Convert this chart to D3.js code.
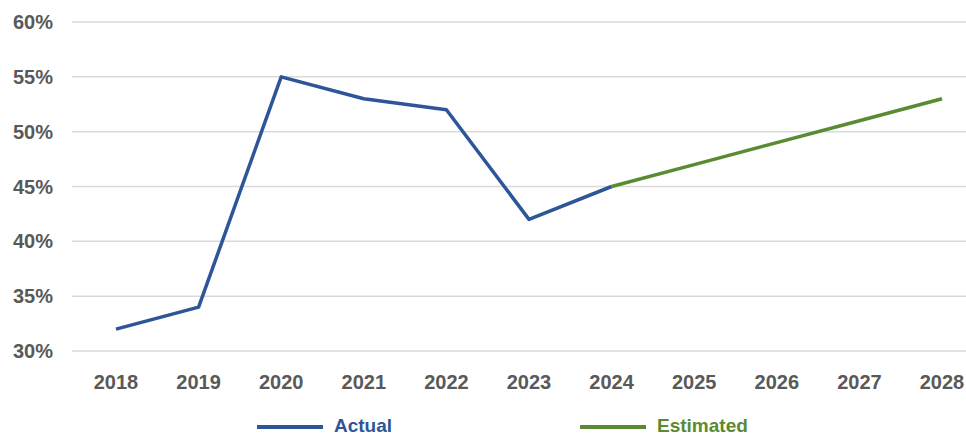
<!DOCTYPE html>
<html>
<head>
<meta charset="utf-8">
<script src="https://cdn.jsdelivr.net/npm/d3@7"></script>
<style>
  body { margin: 0; background: #fff; }
  svg text { font-family: "Liberation Sans Narrow", "Liberation Sans", Arial, sans-serif; font-weight: bold; }
</style>
</head>
<body>
<svg id="chart" width="966" height="436"></svg>
<script>
var years = [2018, 2019, 2020, 2021, 2022, 2023, 2024, 2025, 2026, 2027, 2028];
var actual = [32, 34, 55, 53, 52, 42, 45];
var estimated = [45, 47, 49, 51, 53];
var estYears = [2024, 2025, 2026, 2027, 2028];
var yTicks = [30, 35, 40, 45, 50, 55, 60];

var svg = d3.select("#chart");
var x = d3.scalePoint().domain(years).range([116, 942]);
var y = d3.scaleLinear().domain([30, 60]).range([351, 22]);

// grid
svg.append("g").selectAll("line")
  .data(yTicks).enter()
  .append("line")
  .attr("x1", 72).attr("x2", 966)
  .attr("y1", d => y(d)).attr("y2", d => y(d))
  .attr("stroke", "#d9d9d9").attr("stroke-width", 1.5);

// y labels
svg.append("g").selectAll("text")
  .data(yTicks).enter()
  .append("text")
  .attr("x", 53).attr("y", d => y(d) + 7)
  .attr("text-anchor", "end")
  .attr("font-size", 20).attr("fill", "#595959")
  .text(d => d + "%");

// x labels
svg.append("g").selectAll("text")
  .data(years).enter()
  .append("text")
  .attr("x", d => x(d)).attr("y", 389)
  .attr("text-anchor", "middle")
  .attr("font-size", 20).attr("fill", "#595959")
  .text(d => d);

var line = d3.line().x(d => x(d[0])).y(d => y(d[1]));

svg.append("path")
  .datum(d3.zip(years.slice(0, actual.length), actual))
  .attr("d", line).attr("fill", "none")
  .attr("stroke", "#2e5597").attr("stroke-width", 3.5)
  .attr("stroke-linejoin", "round");

svg.append("path")
  .datum(d3.zip(estYears, estimated))
  .attr("d", line).attr("fill", "none")
  .attr("stroke", "#5a8a32").attr("stroke-width", 3.5)
  .attr("stroke-linejoin", "round");

// legend
var legend = [
  { name: "Actual", color: "#2e5597", x: 257 },
  { name: "Estimated", color: "#5a8a32", x: 580 }
];
var lg = svg.append("g").selectAll("g").data(legend).enter().append("g");
lg.append("line")
  .attr("x1", d => d.x).attr("x2", d => d.x + 66)
  .attr("y1", 427).attr("y2", 427)
  .attr("stroke", d => d.color).attr("stroke-width", 4);
lg.append("text")
  .attr("x", d => d.x + 77).attr("y", 432)
  .attr("font-size", 19).attr("fill", d => d.color)
  .text(d => d.name);
</script>
</body>
</html>
